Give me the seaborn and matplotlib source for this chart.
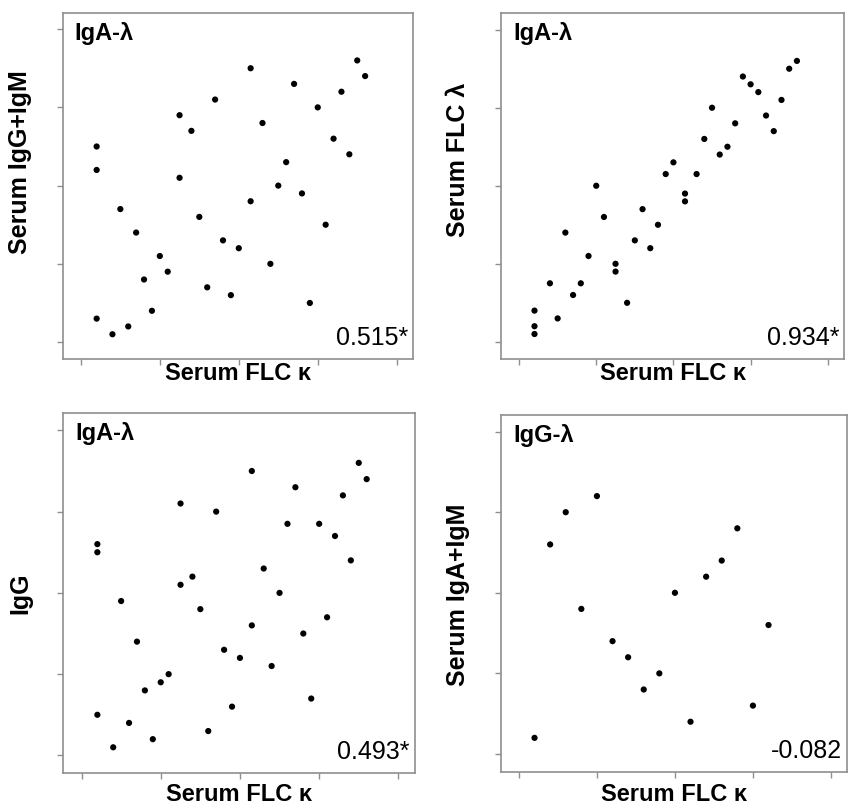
import matplotlib
matplotlib.use("Agg")
import matplotlib.pyplot as plt
import seaborn as sns
import pandas as pd

sns.set_style("white")
plt.rcParams['font.family'] = ['Liberation Sans', 'DejaVu Sans']
plt.rcParams['text.color'] = 'black'
plt.rcParams['axes.labelcolor'] = 'black'

# ---- data (axis units; ticks at 0,10,20,30,40) ----
x1 = [2, 2, 5, 7, 10, 11, 8, 9, 2, 4, 6, 12.5, 12.5, 14, 17, 15, 16, 18, 19, 20,
      21.5, 21.5, 23, 24, 25, 26, 27, 28, 29, 30, 31, 32, 33, 34, 35, 36]
y1 = [25, 22, 17, 14, 11, 9, 8, 4, 3, 1, 2, 29, 21, 27, 31, 16, 7, 13, 6, 12,
      35, 18, 28, 10, 20, 23, 33, 19, 5, 30, 15, 26, 32, 24, 36, 34]

x2 = [2, 2, 2, 4, 5, 6, 7, 8, 9, 10, 11, 12.5, 12.5, 14, 15, 16, 17, 18, 19, 20,
      21.5, 21.5, 23, 24, 25, 26, 27, 28, 29, 30, 31, 32, 33, 34, 35, 36]
y2 = [4, 2, 1, 7.5, 3, 14, 6, 7.5, 11, 20, 16, 10, 9, 5, 13, 17, 12, 15, 21.5, 23,
      19, 18, 21.5, 26, 30, 24, 25, 28, 34, 33, 32, 29, 27, 31, 35, 36]

x3 = [2, 2, 5, 7, 8, 10, 11, 2, 6, 4, 9, 12.5, 12.5, 14, 15, 17, 16, 18, 19, 20,
      21.5, 21.5, 23, 24, 25, 26, 27, 28, 29, 30, 31, 32, 33, 34, 35, 36]
y3 = [26, 25, 19, 14, 8, 9, 10, 5, 4, 1, 2, 31, 21, 22, 18, 30, 3, 13, 6, 12,
      35, 16, 23, 11, 20, 28.5, 33, 15, 7, 28.5, 17, 27, 32, 24, 36, 34]

x4 = [2, 4, 6, 8, 10, 12, 14, 16, 18, 20, 22, 24, 26, 28, 30, 32]
y4 = [2, 26, 30, 18, 32, 14, 12, 8, 10, 20, 4, 22, 24, 28, 6, 16]

titles = ["IgA-λ", "IgA-λ", "IgA-λ", "IgG-λ"]
ylabels = ["Serum IgG+IgM", "Serum FLC λ", "IgG", "Serum IgA+IgM"]
xlabel = "Serum FLC κ"
corrs = ["0.515*", "0.934*", "0.493*", "-0.082"]
ticks = [0, 10, 20, 30, 40]

W, H = 849, 807
fig = plt.figure(figsize=(W / 100, H / 100), dpi=100)

# axes boxes in pixels: left, top, right, bottom
boxes = [(62.7, 12.7, 413.3, 359.3),
         (501.3, 13.3, 844.0, 359.0),
         (63.3, 413.3, 415.0, 773.3),
         (501.0, 414.7, 847.3, 771.7)]
ylabel_cy = [162, 160, 593, 595]
xlabel_top = [362, 362, 783, 783]

datasets = [(x1, y1), (x2, y2), (x3, y3), (x4, y4)]
spine_col = "#8f8f8f"

for i, ((xs, ys), (l, t, r, b)) in enumerate(zip(datasets, boxes)):
    ax = fig.add_axes([l / W, 1 - b / H, (r - l) / W, (b - t) / H])
    df = pd.DataFrame({"x": xs, "y": ys})
    sns.scatterplot(data=df, x="x", y="y", ax=ax, color="black", s=20,
                    edgecolor="none", linewidth=0)
    ax.set_xlim(-2.3, 42.1)
    ax.set_ylim(-2.2, 42.1)
    ax.set_xticks(ticks)
    ax.set_yticks(ticks)
    ax.set_xticklabels([])
    ax.set_yticklabels([])
    ax.tick_params(axis="both", direction="out", length=4, width=1,
                   color=spine_col, bottom=True, left=True)
    for sp in ax.spines.values():
        sp.set_color(spine_col)
        sp.set_linewidth(1.2)
        sp.set_visible(True)
    ax.set_xlabel(xlabel, fontsize=17, fontweight="bold", color="black")
    ax.set_ylabel(ylabels[i], fontsize=18, fontweight="bold", color="black")
    axw, axh = r - l, b - t
    ax.xaxis.set_label_coords(0.5, -(xlabel_top[i] - b) / axh)
    ax.yaxis.set_label_coords(-31 / axw, (b - ylabel_cy[i]) / axh)
    ax.text(12 / axw, 1 - 9 / axh, titles[i], transform=ax.transAxes,
            fontsize=17, fontweight="bold", ha="left", va="top", color="black")
    ax.text(1 - 5 / axw, 14 / axh, corrs[i], transform=ax.transAxes,
            fontsize=18, ha="right", va="baseline", color="black")

fig.savefig("out.png", dpi=100)
